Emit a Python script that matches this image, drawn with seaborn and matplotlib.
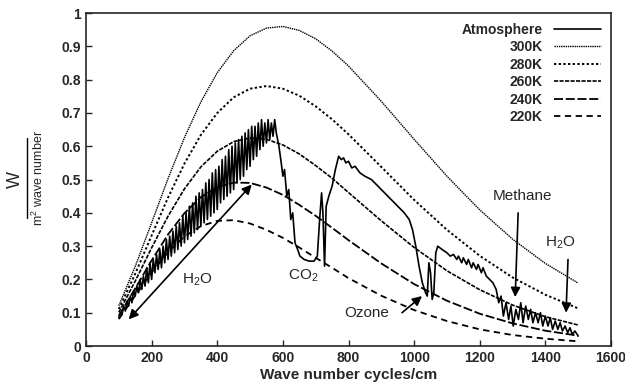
import numpy as np
import pandas as pd
import matplotlib
matplotlib.use("Agg")
import matplotlib.pyplot as plt
import seaborn as sns
from matplotlib.lines import Line2D
from matplotlib.ticker import FuncFormatter

# blackbody curves
wn = [100, 150, 200, 250, 300, 350, 400, 450, 500, 550, 600, 650, 700, 750,
      800, 900, 1000, 1100, 1200, 1300, 1400, 1500]
t300 = [0.121, 0.239, 0.370, 0.503, 0.626, 0.733, 0.821, 0.887, 0.932, 0.955, 0.960, 0.948, 0.923, 0.886,
        0.841, 0.735, 0.621, 0.510, 0.409, 0.321, 0.248, 0.189]
t280 = [0.111, 0.217, 0.332, 0.446, 0.548, 0.634, 0.700, 0.747, 0.773, 0.781, 0.773, 0.752, 0.720, 0.681,
        0.636, 0.538, 0.439, 0.349, 0.271, 0.206, 0.154, 0.113]
t260 = [0.101, 0.195, 0.295, 0.390, 0.472, 0.538, 0.585, 0.614, 0.625, 0.621, 0.604, 0.577, 0.542, 0.504,
        0.461, 0.376, 0.296, 0.226, 0.169, 0.123, 0.088, 0.063]
t240 = [0.091, 0.173, 0.257, 0.335, 0.399, 0.447, 0.477, 0.491, 0.490, 0.476, 0.454, 0.424, 0.391, 0.355,
        0.318, 0.248, 0.186, 0.136, 0.097, 0.068, 0.046, 0.031]
t220 = [0.081, 0.151, 0.221, 0.282, 0.329, 0.360, 0.376, 0.378, 0.368, 0.349, 0.325, 0.296, 0.265, 0.235,
        0.204, 0.151, 0.108, 0.075, 0.050, 0.033, 0.022, 0.014]

# measured atmosphere spectrum
atm_wn = [100, 105, 110, 115, 120, 125, 130, 135, 140, 145, 150, 155, 160, 165, 170, 175, 180, 185, 190, 195,
          200, 205, 210, 215, 220, 225, 230, 235, 240, 245, 250, 255, 260, 265, 270, 275, 280, 285, 290, 295,
          300, 305, 310, 315, 320, 325, 330, 335, 340, 345, 350, 355, 360, 365, 370, 375, 380, 385, 390, 395,
          400, 405, 410, 415, 420, 425, 430, 435, 440, 445, 450, 455, 460, 465, 470, 475, 480, 485, 490, 495,
          500, 505, 510, 515, 520, 525, 530, 535, 540, 545, 550, 555, 560, 565, 570, 575,
          580, 588, 595, 600, 605, 612, 618, 624, 630, 637, 645, 652,
          665, 680, 695, 705, 712, 718, 722, 727, 732, 740, 750, 760, 770, 778, 785, 792, 800, 810, 820, 835,
          850, 870, 890, 910, 930, 950, 970, 985, 995, 1005, 1015, 1025, 1035, 1040, 1045, 1050, 1055, 1060,
          1066, 1072, 1085, 1100, 1110, 1120, 1130, 1135, 1145, 1150, 1160, 1165, 1175, 1180, 1190, 1195, 1205,
          1210, 1220, 1230, 1240, 1250, 1258, 1265, 1272, 1280, 1288, 1295, 1302, 1310, 1318, 1325, 1332, 1340,
          1348, 1355, 1362, 1370, 1378, 1385, 1392, 1400, 1408, 1415, 1422, 1430, 1438, 1445, 1452, 1460, 1468,
          1475, 1482, 1490, 1500]
atm = [0.085, 0.10, 0.095, 0.12, 0.105, 0.135, 0.12, 0.15, 0.13, 0.165, 0.15, 0.18, 0.16, 0.20, 0.17, 0.21,
       0.18, 0.235, 0.19, 0.25, 0.20, 0.26, 0.22, 0.275, 0.23, 0.29, 0.235, 0.30, 0.25, 0.32, 0.26, 0.33,
       0.27, 0.345, 0.28, 0.36, 0.29, 0.37, 0.30, 0.39, 0.31, 0.40, 0.32, 0.42, 0.33, 0.43, 0.34, 0.45,
       0.35, 0.46, 0.36, 0.47, 0.37, 0.49, 0.38, 0.50, 0.39, 0.52, 0.40, 0.53, 0.41, 0.54, 0.43, 0.56,
       0.44, 0.57, 0.45, 0.59, 0.46, 0.60, 0.47, 0.61, 0.49, 0.62, 0.50, 0.63, 0.51, 0.64, 0.53, 0.65,
       0.54, 0.66, 0.56, 0.66, 0.57, 0.67, 0.59, 0.68, 0.60, 0.67, 0.61, 0.68, 0.62, 0.67, 0.63, 0.68,
       0.64, 0.60, 0.55, 0.51, 0.53, 0.45, 0.47, 0.38, 0.40, 0.31, 0.29, 0.27,
       0.26, 0.255, 0.255, 0.27, 0.38, 0.46, 0.40, 0.24,
       0.42, 0.45, 0.48, 0.53, 0.57, 0.56, 0.565, 0.55, 0.555, 0.535, 0.54, 0.52, 0.51, 0.50, 0.48, 0.46, 0.44,
       0.42, 0.40, 0.38, 0.35, 0.30, 0.24, 0.19, 0.16, 0.15, 0.25, 0.22, 0.14, 0.16, 0.28, 0.30, 0.29, 0.28,
       0.27, 0.275, 0.26, 0.27, 0.25, 0.265, 0.245, 0.26, 0.235, 0.25, 0.23, 0.245, 0.22, 0.235, 0.21, 0.20,
       0.19, 0.17, 0.13, 0.15, 0.09, 0.13, 0.08, 0.12, 0.06, 0.11, 0.08, 0.13, 0.07, 0.12, 0.08, 0.11, 0.07,
       0.10, 0.07, 0.10, 0.06, 0.09, 0.06, 0.085, 0.05, 0.075, 0.05, 0.07, 0.045, 0.06, 0.04, 0.055, 0.035,
       0.045, 0.03]

sns.set_style("ticks")
plt.rcParams['font.family'] = ['Liberation Sans', 'DejaVu Sans']
plt.rcParams['mathtext.default'] = 'regular'
plt.rcParams['xtick.direction'] = 'in'
plt.rcParams['ytick.direction'] = 'in'

fig, ax = plt.subplots(figsize=(6.25, 3.86), dpi=100)
fig.subplots_adjust(left=0.1376, right=0.9776, bottom=0.1036, top=0.966)

sns.lineplot(x=atm_wn, y=atm, ax=ax, color='black', lw=1.2, label='Atmosphere', sort=False)
styles = [('300K', t300, (0, (1, 0.6)), 1.0),
          ('280K', t280, (0, (1.2, 1.2)), 1.4),
          ('260K', t260, (0, (2.5, 0.8)), 1.2),
          ('240K', t240, (0, (5, 1.5)), 1.3),
          ('220K', t220, (0, (3.5, 2.5)), 1.3)]
for name, vals, ls, lw in styles:
    sns.lineplot(x=wn, y=vals, ax=ax, color='black', lw=lw, linestyle=ls, label=name)

ax.set_xlim(0, 1600)
ax.set_ylim(0, 1)
ax.set_xticks(range(0, 1601, 200))
ax.set_yticks(np.arange(0, 1.01, 0.1))
ax.yaxis.set_major_formatter(FuncFormatter(lambda v, p: f'{v:.1f}'.rstrip('0').rstrip('.') if v else '0'))
ax.tick_params(labelsize=10, length=4, width=1)
for lab in ax.get_xticklabels() + ax.get_yticklabels():
    lab.set_fontweight('bold')
for s in ax.spines.values():
    s.set_linewidth(1.2)
ax.set_xlabel('Wave number cycles/cm', fontsize=11, fontweight='bold', labelpad=2)
ax.set_ylabel('')

# fraction style y label
fig.text(15 / 625, 1 - 180 / 386, 'W', rotation=90, ha='center', va='center', fontsize=13)
fig.add_artist(Line2D([27 / 625, 27 / 625], [1 - 138 / 386, 1 - 218 / 386], color='black', lw=1))
fig.text(38 / 625, 1 - 178 / 386, 'm$^2$ wave number', rotation=90, ha='center', va='center', fontsize=9)

leg = ax.legend(loc='upper right', frameon=False, markerfirst=False, handlelength=3.4,
                fontsize=10, labelspacing=0.25, borderaxespad=0.3)
for t in leg.get_texts():
    t.set_fontweight('bold')

head = dict(color='black', lw=1.2, shrinkA=0, shrinkB=0, mutation_scale=14)
ax.annotate('', xy=(130, 0.08), xytext=(505, 0.485), arrowprops=dict(arrowstyle='<|-|>', **head))
ax.text(338, 0.2, 'H$_2$O', ha='center', va='center', fontsize=11)
ax.text(661, 0.21, 'CO$_2$', ha='center', va='center', fontsize=11)
ax.annotate('', xy=(1024, 0.15), xytext=(963, 0.10), arrowprops=dict(arrowstyle='-|>', **head))
ax.text(856, 0.10, 'Ozone', ha='center', va='center', fontsize=11)
ax.annotate('', xy=(1308, 0.147), xytext=(1317, 0.40), arrowprops=dict(arrowstyle='-|>', **head))
ax.text(1329, 0.45, 'Methane', ha='center', va='center', fontsize=11)
ax.annotate('', xy=(1463, 0.10), xytext=(1469, 0.26), arrowprops=dict(arrowstyle='-|>', **head))
ax.text(1445, 0.31, 'H$_2$O', ha='center', va='center', fontsize=11)

fig.savefig('out.png', dpi=100)
